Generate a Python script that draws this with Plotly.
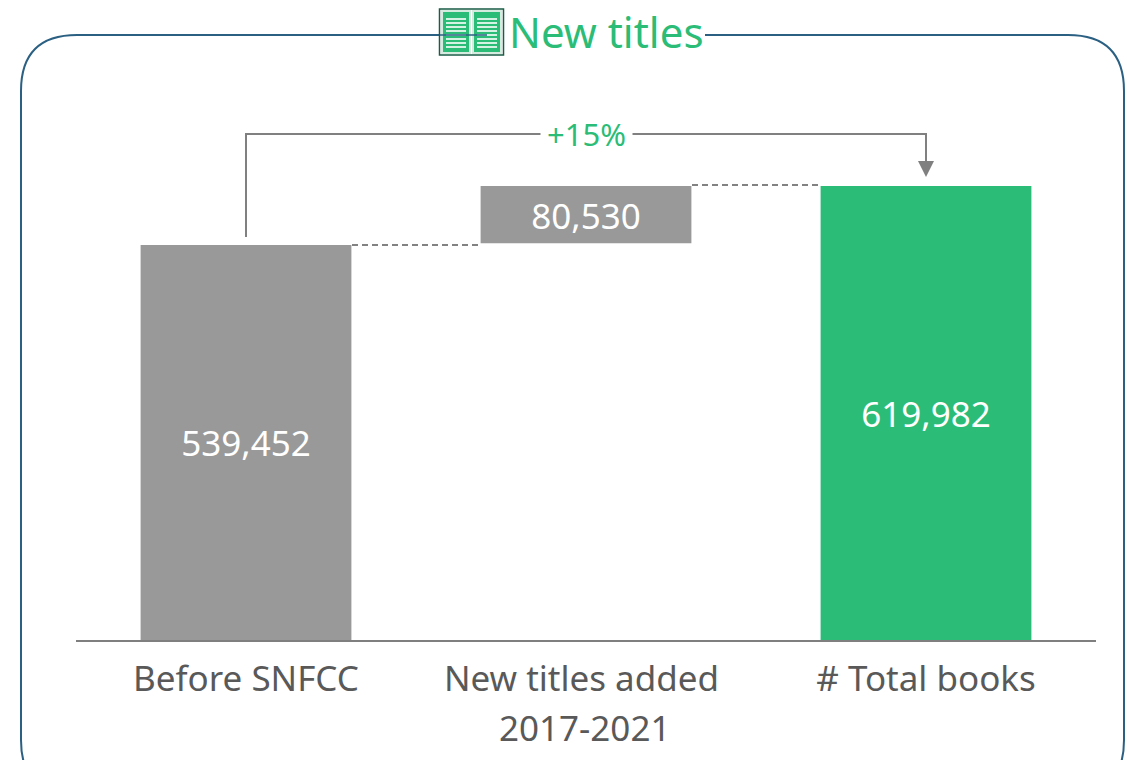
import plotly.graph_objects as go

categories = ["Before SNFCC", "New titles added\u00a0", "# Total books"]
category_second_line = "2017-2021"
bar_values = [539452, 80530, 619982]
bar_bases = [0, 539452, 0]
bar_labels = ["539,452", "80,530", "619,982"]
bar_colors = ["#999999", "#999999", "#2BBD77"]
growth_label = "+15%"
title_text = "New titles"

W, H = 1127, 760
L, R, T, B = 76, 1096, 0, 640   # plot area, in page pixels
FONT = "Noto Sans"
GREEN = "#2BBD77"
GREY = "#808080"
FRAME = "#2B6083"

def px(v):
    return (v - L) / (R - L)

def py(v):
    return (B - v) / (B - T)

def P(x, y):
    return f"{px(x):.5f},{py(y):.5f}"

fig = go.Figure(go.Bar(
    x=[0, 1, 2], y=bar_values, base=bar_bases, width=0.62,
    marker=dict(color=bar_colors, line=dict(width=0)),
    text=bar_labels, textposition="inside", insidetextanchor="middle",
    textangle=0, constraintext="none",
    textfont=dict(family=FONT, size=35, color="white"),
    hoverinfo="skip", cliponaxis=False,
))

shapes = []
def add_paper(**kw):
    shapes.append(dict(xref="paper", yref="paper", **kw))

r = 56
frame_left = 21; frame_right = 1124; frame_top = 35; frame_bottom = 796
path = (f"M {P(487, frame_top)} L {P(frame_left + r, frame_top)} "
        f"Q {P(frame_left, frame_top)} {P(frame_left, frame_top + r)} "
        f"L {P(frame_left, frame_bottom - r)} Q {P(frame_left, frame_bottom)} {P(frame_left + r, frame_bottom)} "
        f"L {P(frame_right - r, frame_bottom)} Q {P(frame_right, frame_bottom)} {P(frame_right, frame_bottom - r)} "
        f"L {P(frame_right, frame_top + r)} Q {P(frame_right, frame_top)} {P(frame_right - r, frame_top)} "
        f"L {P(705, frame_top)}")
add_paper(type="path", path=path, line=dict(color=FRAME, width=2), layer="below")

# book icon
add_paper(type="rect", x0=px(439.5), x1=px(503.5), y0=py(9), y1=py(55),
          fillcolor="white", line=dict(color="#1A5C45", width=1.5), layer="below")
for a, b, c, d in [(441, 471, 446, 466), (472, 502, 477, 497)]:
    add_paper(type="rect", x0=px(a), x1=px(b), y0=py(10), y1=py(54),
              fillcolor="#D5EBDF", line=dict(width=0), layer="below")
    add_paper(type="rect", x0=px(a + 2), x1=px(b - 2), y0=py(12), y1=py(52),
              fillcolor=GREEN, line=dict(width=0), layer="below")
    for ly in [19, 23, 27, 31, 35, 39, 43, 47]:
        add_paper(type="line", x0=px(c), x1=px(d), y0=py(ly), y1=py(ly),
                  line=dict(color="white", width=1.6), layer="below")
add_paper(type="line", x0=px(440), x1=px(487), y0=py(35), y1=py(35),
          line=dict(color=FRAME, width=1.5))

# growth bracket
add_paper(type="path", path=f"M {P(246, 237)} L {P(246, 134)} L {P(926, 134)} L {P(926, 162)}",
          line=dict(color=GREY, width=2))
add_paper(type="path", path=f"M {P(918, 161)} L {P(934, 161)} L {P(926, 177)} Z",
          fillcolor=GREY, line=dict(width=0))

# connectors
add_paper(type="line", x0=px(352), x1=px(480), y0=py(245), y1=py(245),
          line=dict(color="#595959", width=1.5, dash="6px,4px"))
add_paper(type="line", x0=px(692), x1=px(820), y0=py(185), y1=py(185),
          line=dict(color="#595959", width=1.5, dash="6px,4px"))

# small gap under the floating bar
add_paper(type="line", x0=px(480), x1=px(692), y0=py(244.5), y1=py(244.5),
          line=dict(color="white", width=2.5))

annotations = [
    dict(xref="paper", yref="paper", x=px(584.5), y=py(727.5), text=category_second_line,
         showarrow=False, xanchor="center", yanchor="middle",
         font=dict(family=FONT, size=35, color="#595959")),
    dict(xref="paper", yref="paper", x=px(606.5), y=py(31), text=title_text,
         showarrow=False, xanchor="center", yanchor="middle",
         font=dict(family=FONT, size=42, color=GREEN)),
    dict(xref="paper", yref="paper", x=px(586), y=py(134), text=growth_label,
         showarrow=False, xanchor="center", yanchor="middle", bgcolor="white", borderpad=6,
         font=dict(family=FONT, size=31, color=GREEN)),
]

fig.update_layout(
    width=W, height=H, autosize=False,
    margin=dict(l=L, r=W - R, t=T, b=H - B, pad=0),
    paper_bgcolor="white", plot_bgcolor="white", showlegend=False,
    shapes=shapes, annotations=annotations,
    xaxis=dict(range=[-0.5, 2.5], tickmode="array", tickvals=[0, 1, 2], ticktext=categories,
               showgrid=False, zeroline=False, showline=True, linecolor="#7F7F7F", linewidth=2,
               ticks="", ticklabelstandoff=7,
               tickfont=dict(family=FONT, size=35, color="#595959"), fixedrange=True),
    yaxis=dict(range=[0, 619982 * (B - T) / (B - 186)], visible=False, showgrid=False,
               zeroline=False, fixedrange=True),
)
fig.write_html("out.html", config=dict(displayModeBar=False),
               post_script="document.body.style.margin='0';document.documentElement.style.overflow='hidden';")
